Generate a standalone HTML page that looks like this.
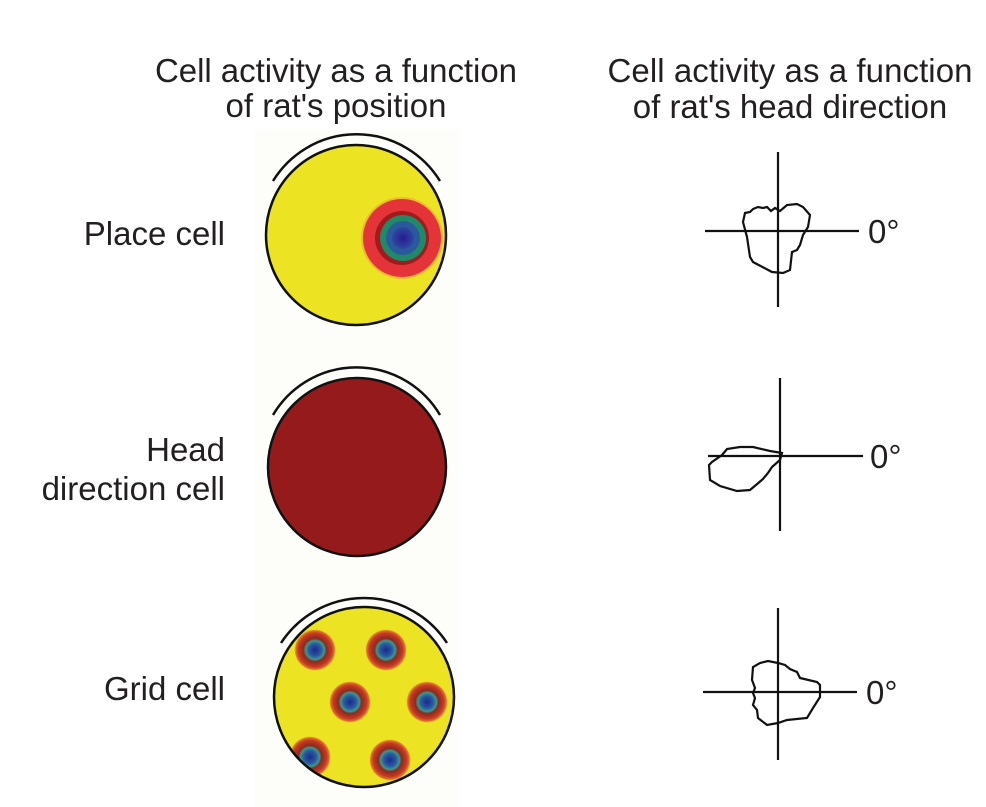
<!DOCTYPE html>
<html><head><meta charset="utf-8"><style>
html,body{margin:0;padding:0;background:#fff;}
svg{display:block;}
text{font-family:"Liberation Sans",Arial,sans-serif;font-size:33px;fill:#231f20;}
</style></head><body>
<svg width="986" height="807" viewBox="0 0 986 807" xmlns="http://www.w3.org/2000/svg">
<defs>
<radialGradient id="spot2">
<stop offset="0" stop-color="#1a2a8a"/>
<stop offset="0.3" stop-color="#2a5aa0"/>
<stop offset="0.45" stop-color="#3a9a8a"/>
<stop offset="0.55" stop-color="#8a2a20"/>
<stop offset="0.8" stop-color="#c83a20"/>
<stop offset="0.93" stop-color="#e07a30"/>
<stop offset="1" stop-color="#ece020" stop-opacity="0"/>
</radialGradient>
<radialGradient id="blue">
<stop offset="0" stop-color="#2a1a90"/>
<stop offset="1" stop-color="#2c4aa0"/>
</radialGradient>
<clipPath id="gc"><circle cx="364" cy="697" r="90"/></clipPath>
</defs>
<rect x="255" y="130" width="205" height="677" fill="#fdfdfa"/>

<text x="336" y="82" text-anchor="middle" textLength="362">Cell activity as a function</text>
<text x="336" y="117" text-anchor="middle">of rat's position</text>
<text x="790" y="82" text-anchor="middle" textLength="365">Cell activity as a function</text>
<text x="790" y="118" text-anchor="middle">of rat's head direction</text>

<text x="225" y="245" text-anchor="end">Place cell</text>
<text x="225" y="461" text-anchor="end">Head</text>
<text x="225" y="500" text-anchor="end">direction cell</text>
<text x="225" y="700" text-anchor="end">Grid cell</text>

<!-- place cell -->
<path d="M273,181 A98,98 0 0 1 440,181" fill="none" stroke="#111" stroke-width="2.5"/>
<circle cx="356" cy="235" r="90" fill="#ece322" stroke="#111" stroke-width="2.5"/>
<circle cx="402" cy="238" r="41" fill="#f0a040" opacity="0.6"/>
<circle cx="402" cy="238" r="39" fill="#e4343a"/>
<circle cx="402" cy="238" r="27" fill="#a01c1c"/>
<circle cx="403" cy="238" r="23" fill="#1f8a68"/>
<circle cx="403" cy="238" r="17" fill="#2a5a9c"/>
<circle cx="403" cy="238" r="11" fill="url(#blue)"/>

<!-- head direction -->
<path d="M273,415 A97,97 0 0 1 440,415" fill="none" stroke="#111" stroke-width="2.5"/>
<circle cx="357" cy="467" r="89" fill="#951a1c" stroke="#111" stroke-width="2.5"/>

<!-- grid -->
<path d="M281,643 A99,99 0 0 1 447,643" fill="none" stroke="#111" stroke-width="2.5"/>
<circle cx="364" cy="697" r="90" fill="#ece322"/>
<g clip-path="url(#gc)">
<circle cx="315" cy="650" r="21" fill="url(#spot2)"/>
<circle cx="386" cy="650" r="21" fill="url(#spot2)"/>
<circle cx="350" cy="702" r="21" fill="url(#spot2)"/>
<circle cx="427" cy="702" r="21" fill="url(#spot2)"/>
<circle cx="310" cy="757" r="21" fill="url(#spot2)"/>
<circle cx="390" cy="760" r="21" fill="url(#spot2)"/>
</g>
<circle cx="364" cy="697" r="90" fill="none" stroke="#111" stroke-width="2.5"/>

<g stroke="#111" stroke-width="2.2" fill="none">
<line x1="778" y1="152" x2="778" y2="307"/>
<line x1="705" y1="231" x2="859" y2="231"/>
<path d="M743,222 L745,213 L750,212 L753,209 L758,207 L763,208 L767,207 L771,211 L775,208 L780,211 L787,205 L797,204 L803,207 L810,215 L808,227 L803,235 L800,245 L797,250 L792,252 L790,270 L783,273 L772,272 L753,262 L750,257 L747,237 Z"/>
<line x1="780" y1="378" x2="780" y2="531"/>
<line x1="708" y1="456" x2="863" y2="456"/>
<path d="M782,453 L770,451 L753,447 L740,447 L727,449 L722,455 L712,462 L709,465 L710,480 L720,486 L737,491 L750,490 L763,479 L768,473 L772,467 L780,460 Z"/>
<line x1="778" y1="608" x2="778" y2="760"/>
<line x1="703" y1="692" x2="857" y2="692"/>
<path d="M778,663 L768,661 L760,663 L753,667 L752,680 L755,688 L753,693 L755,698 L753,705 L757,710 L758,718 L767,725 L778,723 L787,720 L807,718 L813,708 L820,697 L820,685 L817,682 L800,678 L797,672 L790,669 L785,665 Z"/>
</g>
<text x="868" y="243">0°</text>
<text x="870" y="468">0°</text>
<text x="866" y="704">0°</text>
</svg>
</body></html>
